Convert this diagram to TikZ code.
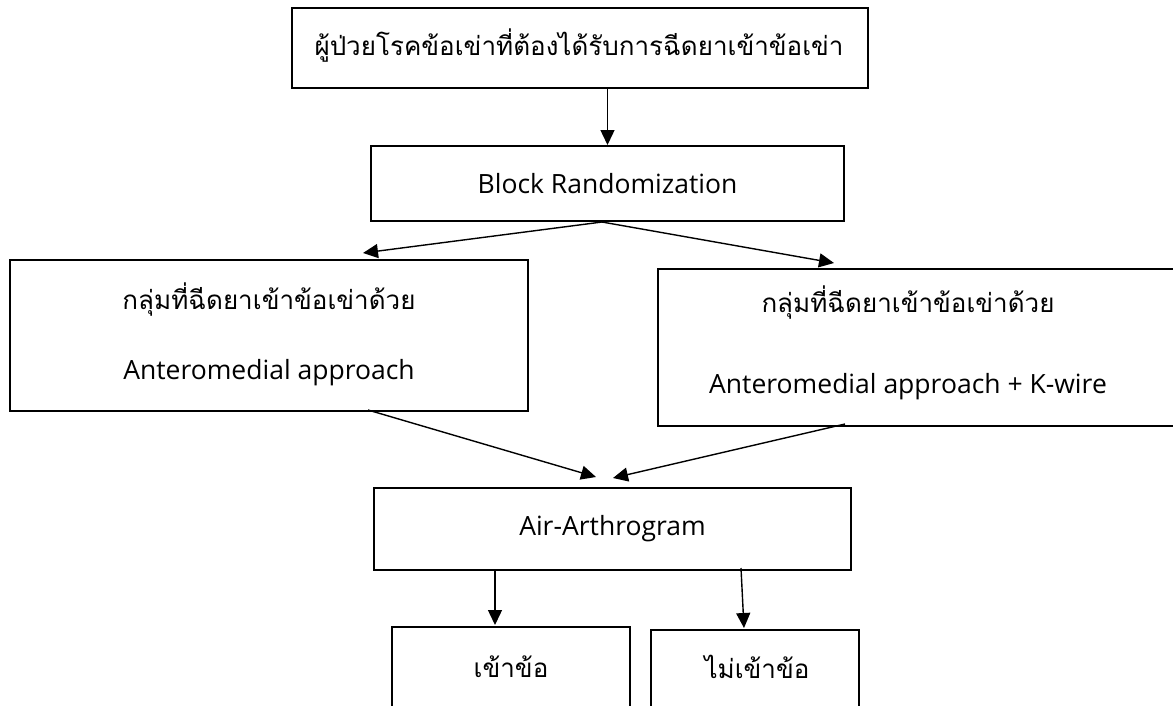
\documentclass[tikz,border=0pt]{standalone}
\usepackage{fontspec}
\setmainfont{Open Sans}
\newfontfamily\thaifont[Script=Thai]{Loma}
\usetikzlibrary{arrows.meta,calc}
\tikzset{
  box/.style={draw=black, line width=2pt, rectangle, inner sep=0pt},
  arr/.style={draw=black, line width=1.4pt, -{Triangle[length=15pt,width=14pt]}},
  lbl/.style={inner sep=0pt, font=\fontsize{26.5}{30}\selectfont},
  thlbl/.style={inner sep=0pt, font=\fontsize{26}{30}\selectfont\thaifont}
}
\begin{document}
\begin{tikzpicture}[x=1pt,y=-1pt]
\useasboundingbox (0,0) rectangle (1173,705);
\fill[white] (0,0) rectangle (1173,705);
\clip (0,0) rectangle (1173,705);
% boxes
\node[box, minimum width=576pt, minimum height=80pt] (top) at (580,48) {};
\node[box, minimum width=473pt, minimum height=75pt] (block) at (607.5,183.5) {};
\node[box, minimum width=518pt, minimum height=151pt] (left) at (269,335.5) {};
\node[box, minimum width=522pt, minimum height=157pt] (right) at (919,347.5) {};
\node[box, minimum width=477pt, minimum height=82pt] (air) at (612.5,529) {};
\node[box, minimum width=238pt, minimum height=100pt] (yes) at (511,677) {};
\node[box, minimum width=208pt, minimum height=100pt] (no) at (755,680) {};
% texts
\node[thlbl] (ttop) at (579,46) {ผู้ป่วยโรคข้อเข่าที่ต้องได้รับการฉีดยาเข้าข้อเข่า};
\node[lbl] (tblock) at (block.center) {Block Randomization};
\node[thlbl] (tleft1) at (269,300) {กลุ่มที่ฉีดยาเข้าข้อเข่าด้วย};
\node[lbl] (tleft2) at (269,373) {Anteromedial approach};
\node[thlbl] (tright1) at (908,303) {กลุ่มที่ฉีดยาเข้าข้อเข่าด้วย};
\node[lbl] (tright2) at (908,387) {Anteromedial approach + K-wire};
\node[lbl] (tair) at (air.center) {Air-Arthrogram};
\node[thlbl] (tyes) at (511,667) {เข้าข้อ};
\node[thlbl] (tno) at (757,667) {ไม่เข้าข้อ};
% connectors
\draw[arr] (block.north |- top.south) -- (block.north);
\draw[arr] ($(block.south)+(-5.5,0)$) -- ($(left.north)+(94,-6)$);
\draw[arr] ($(block.south)+(-5.5,0)$) -- ($(right.north)+(-85,-5)$);
\draw[arr] ($(left.south)+(99,-2)$) -- ($(air.north)+(-16.5,-10)$);
\draw[arr] ($(right.south)+(-74,-3)$) -- ($(air.north)+(0.5,-9)$);
\draw[arr] ($(air.south)+(-117.5,0)$) -- ($(yes.north)+(-16,-1)$);
\draw[arr] ($(air.south)+(128.5,-3)$) -- ($(no.north)+(-11,-1)$);
\end{tikzpicture}
\end{document}
